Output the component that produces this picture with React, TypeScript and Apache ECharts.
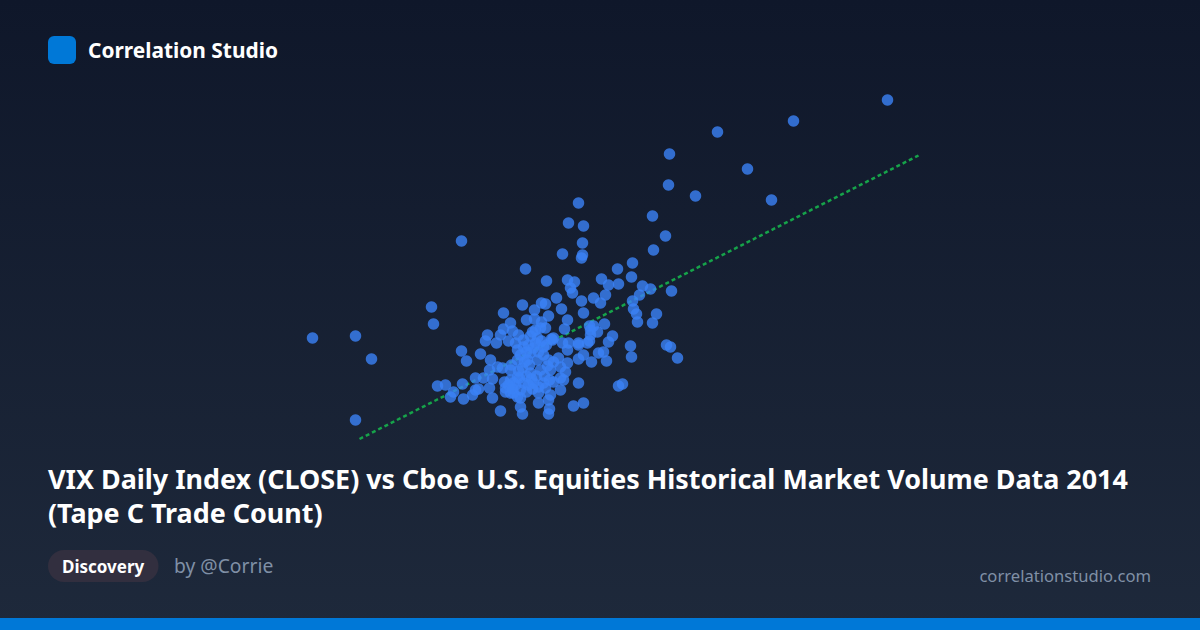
import React, { useEffect, useRef } from 'react'
import * as echarts from 'echarts'

// VIX close for each trading day, paired by index with tape C trade count (millions)
const vixClose = [
    24.675, 22.325, 20.425, 19.225, 21.175, 19.2, 19.875, 21.775, 16.95, 18.8, 16.7, 17.075, 19.125, 14.025, 17.05,
    18.825, 16.55, 17.05, 17.025, 18.3, 15.625, 17.925, 17.525, 18.275, 16.675, 16.15, 16.85, 17.7, 17.95, 18.55,
    16.75, 18.75, 19.275, 16.8, 18.475, 16.4, 17.325, 17.625, 17.025, 17.5, 18.3, 13.275, 15.55, 16.025,
    16.125, 15.85, 16.525, 17.075, 15.075, 18.325, 18.4, 18.9, 18.8, 18.425, 13.325, 15.25, 15.65, 16.2, 15.85,
    16.025, 16.675, 17.6, 17.225, 17.325, 10.3, 11.375, 14.675, 15.3, 16.0, 16.6, 17.25, 17.425, 17.8, 14.625, 14.9,
    15.75, 16.55, 17.225, 17.7, 18.25, 19.15, 19.25, 14.025, 11.775, 14.5, 14.15, 17.575, 18.275, 19.425, 17.65,
    16.95, 17.275, 11.375,
    14.75, 14.925, 14.725, 13.425, 13.625, 14.05, 14.375, 14.575, 14.8, 13.75, 13.825, 14.075, 14.3, 14.375, 14.45,
    14.725, 14.8, 15.0, 15.1, 15.25, 15.125, 15.425, 15.275, 15.25, 15.5, 15.475, 15.325, 15.05,
    16.95, 16.825, 17.075, 16.225, 16.2, 15.55, 15.95, 15.95, 16.25, 16.5, 16.575, 16.2, 15.5, 15.325, 16.325, 16.075,
    15.825, 15.575, 15.425, 15.75, 16.0, 16.25, 16.5, 16.675, 15.675, 15.425, 15.925, 16.2, 16.45, 16.675, 16.7, 16.95,
    17.175, 17.075, 17.45, 15.575, 15.825, 16.075, 16.3, 15.425, 15.75, 16.075, 17.95, 18.05,
    15.075, 16.125, 15.0, 15.2, 15.45, 15.875, 15.8, 16.275, 15.925, 15.575, 15.375, 17.25, 16.95, 16.325,
    15.7, 15.875, 16.025, 16.15, 15.65, 15.5, 15.95, 15.6, 15.725, 16.175, 16.325,
    15.65, 15.775, 15.9, 16.1, 16.225, 15.45, 15.55, 15.7, 15.95, 16.125, 15.375, 15.25,
    15.125, 15.2, 15.3, 15.5, 15.65, 15.8, 16.5, 16.625,
]

const tapeCTradeCount = [
    5.3, 5.09, 4.98, 4.76, 4.61, 4.45, 4.34, 4.3, 4.27, 4.14, 4.07, 4.04, 3.94, 3.89, 3.87,
    3.8, 3.76, 3.75, 3.72, 3.67, 3.61, 3.61, 3.51, 3.53, 3.5, 3.49, 3.48, 3.45, 3.46, 3.44,
    3.42, 3.41, 3.39, 3.37, 3.35, 3.32, 3.32, 3.35, 3.29, 3.27, 3.29, 3.23, 3.25, 3.27,
    3.26, 3.2, 3.21, 3.17, 3.17, 3.21, 3.16, 3.16, 3.07, 3.08, 3.06, 3.07, 3.1, 3.14, 3.11,
    3.08, 3.1, 3.06, 3.04, 3.04, 2.92, 2.94, 2.95, 2.99, 3.02, 3.01, 3.0, 2.98, 2.94, 2.89, 2.87,
    2.94, 2.87, 2.89, 2.88, 2.84, 2.85, 2.83, 2.79, 2.71, 2.76, 2.69, 2.78, 2.73, 2.72, 2.69,
    2.71, 2.68, 2.1,
    2.7, 2.63, 2.6, 2.44, 2.45, 2.46, 2.52, 2.52, 2.51, 2.33, 2.38, 2.31, 2.35, 2.4, 2.41,
    2.42, 2.32, 2.19, 2.48, 2.37, 2.38, 2.33, 2.65, 2.6, 2.23, 2.52, 2.47, 2.62,
    2.47, 2.24, 2.27, 2.21, 2.16, 2.16, 2.27, 2.37, 2.35, 2.4, 2.5, 2.3, 2.32, 2.37, 2.48, 2.47,
    2.47, 2.47, 2.53, 2.57, 2.6, 2.6, 2.63, 2.67, 2.7, 2.7, 2.7, 2.7, 2.72, 2.8, 2.87, 2.85,
    2.87, 2.75, 2.77, 2.83, 2.82, 2.83, 2.9, 2.8, 2.77, 2.75, 2.44, 2.46,
    3.01, 3.02, 2.95, 2.89, 2.95, 3.0, 2.98, 2.91, 2.92, 2.9, 2.87, 2.95, 2.87, 2.92,
    2.85, 2.87, 2.89, 2.85, 2.78, 2.75, 2.78, 2.68, 2.65, 2.64, 2.68,
    2.54, 2.51, 2.54, 2.54, 2.5, 2.59, 2.62, 2.45, 2.43, 2.42, 2.45, 2.5,
    2.42, 2.45, 2.41, 2.4, 2.38, 2.41, 2.52, 2.58,
]

const trendVix = [11.475, 25.45]
const trendCount = [1.91, 4.745]

const fontFamily = '"Noto Sans", sans-serif'
const titleLines = [
    'VIX Daily Index (CLOSE) vs Cboe U.S. Equities Historical Market Volume Data 2014',
    '(Tape C Trade Count)',
]

const App: React.FC = () => {
    const chartRef = useRef<HTMLDivElement>(null)

    useEffect(() => {
        const chart = echarts.init(chartRef.current, null, { renderer: 'svg' })

        const option = {
            animation: false,
            backgroundColor: new echarts.graphic.LinearGradient(0, 0, 0, 1, [
                { offset: 0, color: '#0f172a' },
                { offset: 1, color: '#1e293b' },
            ]),
            grid: { left: 0, right: 0, top: 0, bottom: 0 },
            xAxis: { type: 'value', min: 2.4875, max: 32.4875, show: false },
            yAxis: { type: 'value', min: 0, max: 6.3, show: false },
            series: [
                {
                    type: 'line',
                    data: trendVix.map((v, i) => [v, trendCount[i]]),
                    symbol: 'none',
                    z: 1,
                    lineStyle: { color: '#16a34a', width: 2.5, type: [4, 3] },
                },
                {
                    type: 'scatter',
                    data: vixClose.map((v, i) => [v, tapeCTradeCount[i]]),
                    symbolSize: 11.5,
                    z: 2,
                    itemStyle: { color: '#3b82f6', opacity: 0.8 },
                },
            ],
            graphic: [
                { type: 'rect', shape: { x: 48, y: 36, width: 28, height: 28, r: 6 }, style: { fill: '#0078d7' } },
                {
                    type: 'text',
                    x: 88,
                    y: 50,
                    style: { text: 'Correlation Studio', fill: '#fff', font: `bold 20.9px ${fontFamily}`, textVerticalAlign: 'middle' },
                },
                {
                    type: 'text',
                    x: 48,
                    y: 478,
                    style: { text: titleLines[0], fill: '#fff', font: `bold 26.9px ${fontFamily}`, textVerticalAlign: 'middle' },
                },
                {
                    type: 'text',
                    x: 48,
                    y: 512,
                    style: { text: titleLines[1], fill: '#fff', font: `bold 26.9px ${fontFamily}`, textVerticalAlign: 'middle' },
                },
                { type: 'rect', shape: { x: 48, y: 550, width: 110.5, height: 32, r: 16 }, style: { fill: '#322f3f' } },
                {
                    type: 'text',
                    x: 62,
                    y: 566,
                    style: { text: 'Discovery', fill: '#fff', font: `bold 17px ${fontFamily}`, textVerticalAlign: 'middle' },
                },
                {
                    type: 'text',
                    x: 174,
                    y: 565.5,
                    style: { text: 'by @Corrie', fill: '#8090a6', font: `19.3px ${fontFamily}`, textVerticalAlign: 'middle' },
                },
                {
                    type: 'text',
                    x: 1151,
                    y: 575,
                    style: { text: 'correlationstudio.com', fill: '#8090a6', font: `16.6px ${fontFamily}`, textAlign: 'right', textVerticalAlign: 'middle' },
                },
                { type: 'rect', shape: { x: 0, y: 618, width: 1200, height: 12 }, style: { fill: '#0078d7' } },
            ],
        }

        chart.setOption(option)

        return () => {
            chart.dispose()
        }
    }, [])

    return <div ref={chartRef} style={{ position: 'fixed', left: 0, top: 0, width: '1200px', height: '630px' }} />
}

export default App
